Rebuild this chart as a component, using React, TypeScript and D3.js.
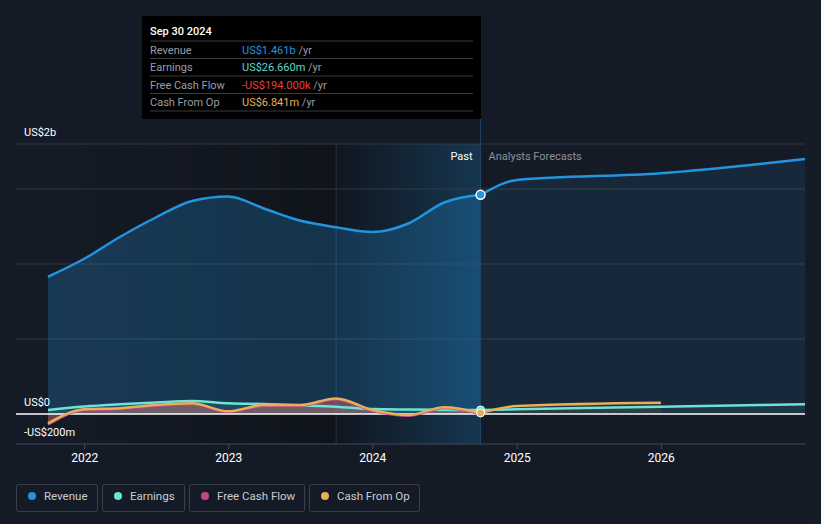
import * as d3 from 'd3';

// quarterly history (US$ billions)
const pastDates = [
  '2021-09-30', '2021-12-31', '2022-03-31', '2022-06-30', '2022-09-30', '2022-12-31',
  '2023-03-31', '2023-06-30', '2023-09-30', '2023-12-31', '2024-03-31', '2024-06-30', '2024-09-30',
];
const revenuePast = [0.915, 1.035, 1.18, 1.31, 1.42, 1.45, 1.37, 1.29, 1.245, 1.213, 1.27, 1.41, 1.461];
const earningsPast = [0.027, 0.05, 0.065, 0.077, 0.087, 0.072, 0.066, 0.058, 0.049, 0.033, 0.03, 0.028, 0.0267];
const fcfPast = [-0.07, 0.026, 0.033, 0.055, 0.066, 0.014, 0.054, 0.054, 0.098, 0.022, -0.012, 0.04, -0.0002];
const cfoPast = [-0.062, 0.031, 0.038, 0.06, 0.071, 0.018, 0.06, 0.06, 0.104, 0.027, -0.007, 0.045, 0.0068];

// analyst forecasts
const forecastDates = ['2024-09-30', '2024-12-31', '2025-12-31', '2026-12-31'];
const revenueForecast = [1.461, 1.56, 1.605, 1.7];
const earningsForecast = [0.0267, 0.031, 0.049, 0.065];
const cfoForecastDates = ['2024-09-30', '2024-12-31', '2025-12-31'];
const cfoForecast = [0.0068, 0.053, 0.075];

const yearTicks = ['2022', '2023', '2024', '2025', '2026'];
const gridValues = [0.5, 1, 1.5, 1.8];

const legendItems = [
  { name: 'Revenue', color: '#2394df' },
  { name: 'Earnings', color: '#6ce3d3' },
  { name: 'Free Cash Flow', color: '#c0498a' },
  { name: 'Cash From Op', color: '#e9ad5c' },
];

const tooltipRows = [
  { label: 'Revenue', value: 'US$1.461b', color: '#2394df' },
  { label: 'Earnings', value: 'US$26.660m', color: '#5fd8c6' },
  { label: 'Free Cash Flow', value: '-US$194.000k', color: '#e8403a' },
  { label: 'Cash From Op', value: 'US$6.841m', color: '#e9ad5c' },
];

const W = 821;
const H = 524;
const FONT = 'Roboto, "Noto Sans", sans-serif';

const parse = d3.timeParse('%Y-%m-%d');
type Pt = { d: Date; v: number };
const zip = (dates: string[], vals: number[]): Pt[] => dates.map((s, i) => ({ d: parse(s) as Date, v: vals[i] }));

export default function App() {
  const x = d3.scaleTime()
    .domain([parse('2021-09-30') as Date, parse('2026-12-31') as Date])
    .range([48, 805]);
  const y = d3.scaleLinear().domain([-0.2, 1.8]).range([444, 144]);

  const line = d3.line<Pt>().x(p => x(p.d)).y(p => y(p.v)).curve(d3.curveMonotoneX);
  const area = d3.area<Pt>().x(p => x(p.d)).y0(y(0)).y1(p => y(p.v)).curve(d3.curveMonotoneX);

  const rev = zip(pastDates, revenuePast);
  const earn = zip(pastDates, earningsPast);
  const fcf = zip(pastDates, fcfPast);
  const cfo = zip(pastDates, cfoPast);
  const revF = zip(forecastDates, revenueForecast);
  const earnF = zip(forecastDates, earningsForecast);
  const cfoF = zip(cfoForecastDates, cfoForecast);

  const xStart = x(parse('2021-09-30') as Date);
  const xYearAgo = x(parse('2023-09-30') as Date);
  const xNow = x(parse('2024-09-30') as Date);
  const last = pastDates.length - 1;

  return (
    <svg width={W} height={H} style={{ position: 'fixed', left: 0, top: 0, display: 'block', fontFamily: FONT }}>
      <defs>
        <linearGradient id="pastShade" x1="0" x2="1" y1="0" y2="0">
          <stop offset="0" stopColor="#151b26" />
          <stop offset="1" stopColor="#0f141c" />
        </linearGradient>
        <linearGradient id="yearShade" x1="0" x2="1" y1="0" y2="0">
          <stop offset="0" stopColor="#10161f" />
          <stop offset="1" stopColor="#163650" />
        </linearGradient>
      </defs>
      <rect width={W} height={H} fill="#151b26" />
      <rect x={805} y={0} width={W - 805} height={H} fill="#161c27" />

      {/* past background shading */}
      <rect x={xStart} y={y(1.8)} width={xYearAgo - xStart} height={y(-0.2) - y(1.8)} fill="url(#pastShade)" />
      <rect x={xYearAgo} y={y(1.8)} width={xNow - xYearAgo} height={y(-0.2) - y(1.8)} fill="url(#yearShade)" />
      <line x1={xYearAgo} x2={xYearAgo} y1={y(1.8)} y2={y(-0.2)} stroke="#1d3550" />

      {/* grid */}
      {gridValues.map(g => (
        <line key={g} x1={16} x2={805} y1={y(g)} y2={y(g)} stroke="#3a4049" opacity={0.8} />
      ))}

      {/* revenue */}
      <path d={area(rev) ?? ''} fill="#2394df" opacity={0.25} />
      <path d={area(revF) ?? ''} fill="#2394df" opacity={0.11} />

      {/* small series areas */}
      <path d={area(earn) ?? ''} fill="#6ce3d3" opacity={0.12} />
      <path d={area(fcf) ?? ''} fill="#c0498a" opacity={0.3} />
      <path d={area(cfo) ?? ''} fill="#e9ad5c" opacity={0.2} />
      <path d={area(earnF) ?? ''} fill="#6ce3d3" opacity={0.08} />
      <path d={area(cfoF) ?? ''} fill="#e9ad5c" opacity={0.08} />

      <line x1={16} x2={805} y1={y(0)} y2={y(0)} stroke="#ffffff" strokeWidth={1.5} />

      <path d={line(earn) ?? ''} fill="none" stroke="#6ce3d3" strokeWidth={2.5} />
      <path d={line(earnF) ?? ''} fill="none" stroke="#6ce3d3" strokeWidth={2.5} />
      <path d={line(fcf) ?? ''} fill="none" stroke="#c0498a" strokeWidth={2.5} />
      <path d={line(cfo) ?? ''} fill="none" stroke="#e9ad5c" strokeWidth={2.5} />
      <path d={line(cfoF) ?? ''} fill="none" stroke="#e9ad5c" strokeWidth={2.5} />
      <path d={line(rev) ?? ''} fill="none" stroke="#2394df" strokeWidth={2.5} />
      <path d={line(revF) ?? ''} fill="none" stroke="#2394df" strokeWidth={2.5} />

      {/* now line */}
      <line x1={xNow} x2={xNow} y1={119} y2={444} stroke="#1f4666" strokeWidth={1} />

      {/* markers */}
      <circle cx={xNow} cy={y(earningsPast[last])} r={4} fill="#6ce3d3" stroke="#ffffff" strokeWidth={1} />
      <circle cx={xNow} cy={y(cfoPast[last])} r={4} fill="#e9ad5c" stroke="#ffffff" strokeWidth={1} />
      <circle cx={xNow} cy={y(revenuePast[last])} r={4.5} fill="#2394df" stroke="#ffffff" strokeWidth={1.5} />

      {/* axis */}
      <line x1={16} x2={805} y1={444} y2={444} stroke="#454b55" strokeWidth={1} />
      {yearTicks.map(t => {
        const tx = x(parse(`${t}-01-01`) as Date);
        return (
          <g key={t}>
            <line x1={tx} x2={tx} y1={444} y2={449} stroke="#454b55" />
            <text x={tx} y={462} textAnchor="middle" fill="#ffffff" fontSize={12}>{t}</text>
          </g>
        );
      })}

      {/* y labels */}
      <text x={24} y={136} fill="#ffffff" fontSize={11}>US$2b</text>
      <text x={24} y={406} fill="#ffffff" fontSize={11}>US$0</text>
      <text x={24} y={436} fill="#ffffff" fontSize={11}>-US$200m</text>

      <text x={xNow - 8} y={160} textAnchor="end" fill="#ffffff" fontSize={11}>Past</text>
      <text x={xNow + 8} y={160} fill="#8c9099" fontSize={11}>Analysts Forecasts</text>

      {/* tooltip */}
      <rect x={142} y={16} width={339} height={103} fill="#000000" />
      <text x={150} y={35} fill="#ffffff" fontSize={11} fontWeight={500}>Sep 30 2024</text>
      {tooltipRows.map((r, i) => {
        const top = 41 + i * 17.5;
        return (
          <g key={r.label}>
            <line x1={150} x2={473} y1={top} y2={top} stroke="#3a3a3a" />
            <text x={150} y={top + 12.5} fill="#9a9ea5" fontSize={11}>{r.label}</text>
            <text x={242} y={top + 12.5} fontSize={11}>
              <tspan fill={r.color}>{r.value}</tspan>
              <tspan fill="#9a9ea5"> /yr</tspan>
            </text>
          </g>
        );
      })}
      <line x1={150} x2={473} y1={111} y2={111} stroke="#3a3a3a" />

      {/* legend */}
      {legendItems.map((item, i) => {
        const xs = [16, 102, 189, 309];
        const ws = [81, 82, 115, 110];
        return (
          <g key={item.name}>
            <rect x={xs[i] + 0.5} y={484.5} width={ws[i]} height={27} rx={2} fill="none" stroke="#3a3f48" />
            <circle cx={xs[i] + 16} cy={496} r={4} fill={item.color} />
            <text x={xs[i] + 28} y={500} fill="#c9ccd1" fontSize={11.5}>{item.name}</text>
          </g>
        );
      })}
    </svg>
  );
}
